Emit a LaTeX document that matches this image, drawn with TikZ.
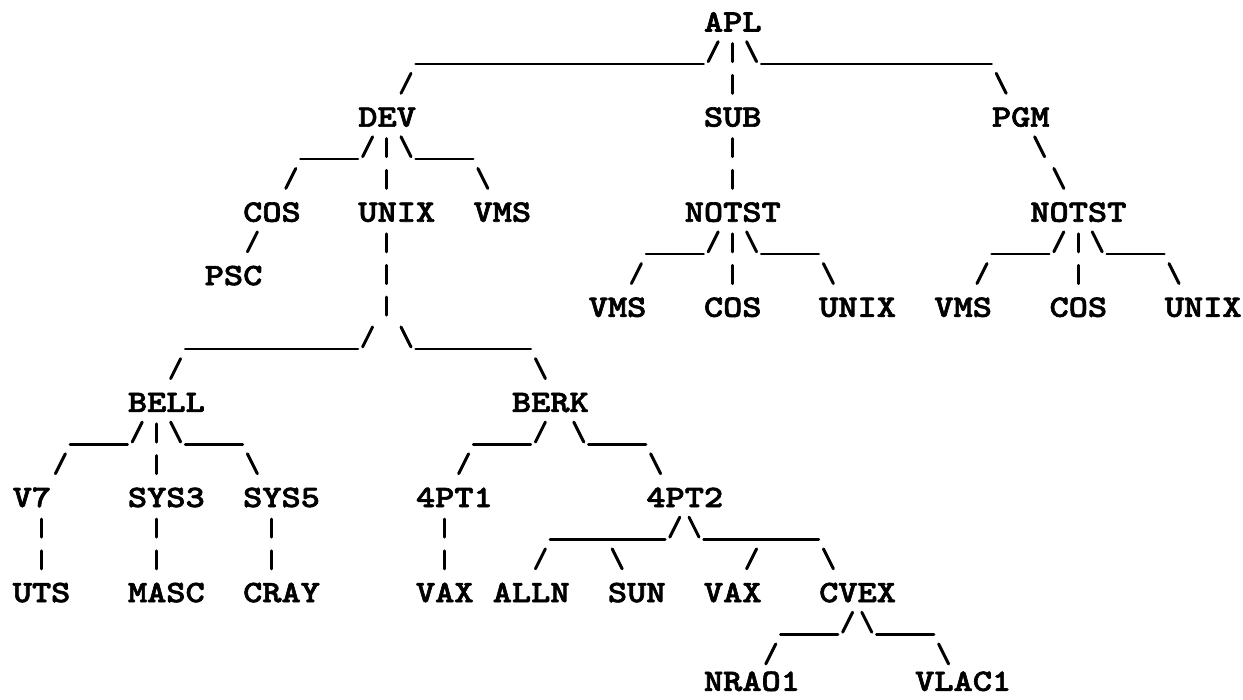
\documentclass[tikz,border=0pt]{standalone}
\usepackage{fontspec}
\newfontfamily\apltt{lmmonolt10-bold}[Extension=.otf, FakeStretch=1.176, FakeBold=2]
\tikzset{
  lbl/.style   = {font=\apltt\fontsize{17.7pt}{20pt}\selectfont,
                  anchor=base west, inner sep=0pt},
  glyph/.style = {line width=1.7pt, line cap=round},
  uline/.style = {line width=1.5pt, line cap=round},
  fslash/.pic  = {\draw[glyph] (-0.26,0.25) -- (0.26,-0.38);},
  bslash/.pic  = {\draw[glyph] (-0.26,-0.38) -- (0.26,0.25);},
  vbar/.pic    = {\draw[glyph] (0,-0.32) -- (0,0.25);}
}

\begin{document}
\begin{tikzpicture}[x=0.384cm, y=-0.634cm]
  \useasboundingbox (-1.146,-0.694) rectangle (63.594,21.388);
  % one column = one typewriter character, one row = one line
  \node[lbl] (apl)    at (35.5,0.3)  {APL};
  \node[lbl] (dev)    at (17.5,3.3)  {DEV};
  \node[lbl] (sub)    at (35.5,3.3)  {SUB};
  \node[lbl] (pgm)    at (50.5,3.3)  {PGM};
  \node[lbl] (cos)    at (11.5,6.3)  {COS};
  \node[lbl] (unix)   at (17.5,6.3)  {UNIX};
  \node[lbl] (vms)    at (23.5,6.3)  {VMS};
  \node[lbl] (notsta) at (34.5,6.3)  {NOTST};
  \node[lbl] (notstb) at (52.5,6.3)  {NOTST};
  \node[lbl] (psc)    at (9.5,8.3)   {PSC};
  \node[lbl] (vmsa)   at (29.5,9.3)  {VMS};
  \node[lbl] (cosa)   at (35.5,9.3)  {COS};
  \node[lbl] (unixa)  at (41.5,9.3)  {UNIX};
  \node[lbl] (vmsb)   at (47.5,9.3)  {VMS};
  \node[lbl] (cosb)   at (53.5,9.3)  {COS};
  \node[lbl] (unixb)  at (59.5,9.3)  {UNIX};
  \node[lbl] (bell)   at (5.5,12.3)  {BELL};
  \node[lbl] (berk)   at (25.5,12.3) {BERK};
  \node[lbl] (vseven) at (-0.5,15.3) {V7};
  \node[lbl] (sysiii) at (5.5,15.3)  {SYS3};
  \node[lbl] (sysv)   at (11.5,15.3) {SYS5};
  \node[lbl] (ptone)  at (20.5,15.3) {4PT1};
  \node[lbl] (pttwo)  at (32.5,15.3) {4PT2};
  \node[lbl] (uts)    at (-0.5,18.3) {UTS};
  \node[lbl] (masc)   at (5.5,18.3)  {MASC};
  \node[lbl] (cray)   at (11.5,18.3) {CRAY};
  \node[lbl] (vaxa)   at (20.5,18.3) {VAX};
  \node[lbl] (alln)   at (24.5,18.3) {ALLN};
  \node[lbl] (sun)    at (30.5,18.3) {SUN};
  \node[lbl] (vaxb)   at (35.5,18.3) {VAX};
  \node[lbl] (cvex)   at (41.5,18.3) {CVEX};
  \node[lbl] (nrao)   at (35.5,21.1) {NRAO1};
  \node[lbl] (vlac)   at (46.5,21.1) {VLAC1};
  % branches, typed as / \ | and _
  \foreach \c/\r in {36/1,20/2,18/4,14/5,12/7,36/7,54/7,32/8,50/8,18/10,8/11,
                     6/13,27/13,2/14,23/14,34/16,27/17,38/17,43/19,39/20}
    \pic at (\c,\r) {fslash};
  \foreach \c/\r in {38/1,51/2,20/4,53/4,24/5,54/5,38/7,56/7,42/8,60/8,20/10,27/11,
                     8/13,29/13,12/14,33/14,35/16,31/17,42/17,44/19,48/20}
    \pic at (\c,\r) {bslash};
  \foreach \c/\r in {37/1,37/2,19/4,37/4,19/5,37/5,19/7,37/7,55/7,19/8,37/8,55/8,
                     19/9,7/13,7/14,1/16,7/16,13/16,22/16,1/17,7/17,13/17,22/17}
    \pic at (\c,\r) {vbar};
  \foreach \a/\b/\r in {21/35/1,39/50/1,15/17/4,21/23/4,33/35/7,39/41/7,51/53/7,
                        57/59/7,9/17/10,21/26/10,3/5/13,9/11/13,24/26/13,30/32/13,
                        28/33/16,36/41/16,40/42/19,45/47/19}
    \draw[uline] (\a-0.5,\r+0.32) -- (\b+0.5,\r+0.32);
\end{tikzpicture}
\end{document}
